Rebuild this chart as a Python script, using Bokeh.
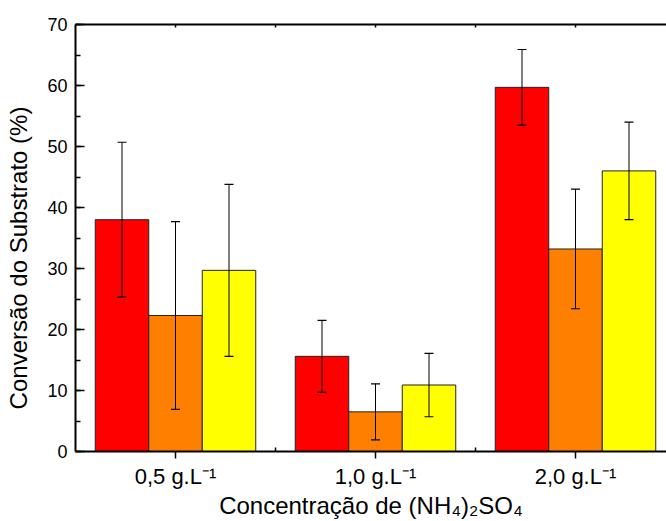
from bokeh.plotting import figure
from bokeh.models import (Range1d, LinearAxis, FixedTicker, SingleIntervalTicker,
                          Whisker, TeeHead, ColumnDataSource)
from bokeh.embed import file_html
from bokeh.resources import INLINE

# ---- data ----
group_labels = ["0,5 g.L⁻¹", "1,0 g.L⁻¹", "2,0 g.L⁻¹"]
series_colors = ["#FF0000", "#FF8000", "#FFFF00"]
red_values = [38.0, 15.6, 59.7]
red_errors = [12.7, 5.9, 6.2]
orange_values = [22.3, 6.5, 33.2]
orange_errors = [15.4, 4.6, 9.8]
yellow_values = [29.7, 10.9, 46.0]
yellow_errors = [14.1, 5.2, 8.0]
y_label = "Conversão do Substrato (%)"
x_label = "Concentração de (NH₄)₂SO₄"

FONT = "Liberation Sans"
W, H = 666, 521
BL, BR, BT, BB = 75, 0, 24, 70
group_px = 200.0
x0 = 0.5
x1 = x0 + (W - BL - BR) / group_px

p = figure(width=W, height=H, x_range=Range1d(x0, x1), y_range=Range1d(0, 70),
           output_backend="svg", toolbar_location=None,
           min_border_left=BL, min_border_right=BR, min_border_top=BT,
           min_border_bottom=BB)
p.outline_line_color = None
p.grid.visible = False
p.background_fill_color = "white"
p.border_fill_color = "white"

positions = [1, 2, 3]
bar_w = 53.5 / group_px
series = [(red_values, red_errors), (orange_values, orange_errors),
          (yellow_values, yellow_errors)]
for i, ((vals, errs), col) in enumerate(zip(series, series_colors)):
    xs = [g + (i - 1) * bar_w for g in positions]
    src = ColumnDataSource(dict(x=xs, top=vals,
                                upper=[v + e for v, e in zip(vals, errs)],
                                lower=[v - e for v, e in zip(vals, errs)]))
    p.vbar(x="x", top="top", width=bar_w, bottom=0, source=src,
           fill_color=col, line_color="#222222", line_width=1)
    wk = Whisker(base="x", upper="upper", lower="lower", source=src,
                 line_color="black", line_width=1, level="overlay",
                 upper_head=TeeHead(size=9, line_color="black", line_width=1.2),
                 lower_head=TeeHead(size=9, line_color="black", line_width=1.2))
    p.add_layout(wk)

# y axis
ya = p.yaxis[0]
ya.ticker = SingleIntervalTicker(interval=10, num_minor_ticks=2)
ya.axis_line_width = 2
ya.major_tick_in = 9
ya.major_tick_out = 0
ya.minor_tick_in = 5
ya.minor_tick_out = 0
ya.major_tick_line_width = 1.5
ya.minor_tick_line_width = 1.5
ya.major_label_text_font = FONT
ya.major_label_text_font_size = "18px"
ya.major_label_text_color = "black"
ya.major_label_standoff = 8
ya.axis_label = y_label + "\u00a0" * 6
ya.axis_label_text_font = FONT
ya.axis_label_text_font_size = "24px"
ya.axis_label_text_font_style = "normal"
ya.axis_label_text_color = "black"
ya.axis_label_standoff = 12

# x axis
xa = p.xaxis[0]
xa.ticker = FixedTicker(ticks=positions, minor_ticks=[1.5, 2.5])
xa.major_label_overrides = {g: t for g, t in zip(positions, group_labels)}
xa.axis_line_width = 2
xa.major_tick_in = 0
xa.major_tick_out = 7
xa.minor_tick_in = 4
xa.minor_tick_out = 0
xa.major_tick_line_width = 1.5
xa.minor_tick_line_width = 1.5
xa.major_label_text_font = FONT
xa.major_label_text_font_size = "22px"
xa.major_label_text_color = "black"
xa.major_label_standoff = 5
xa.axis_label = x_label
xa.axis_label_text_font = FONT
xa.axis_label_text_font_size = "24px"
xa.axis_label_text_font_style = "normal"
xa.axis_label_text_color = "black"
xa.axis_label_standoff = 0

# top axis (frame line with small inward ticks, no labels)
ta = LinearAxis(ticker=FixedTicker(ticks=[], minor_ticks=[1, 1.5, 2, 2.5, 3]))
ta.axis_line_width = 2
ta.major_tick_in = 0
ta.major_tick_out = 0
ta.minor_tick_in = 3
ta.minor_tick_out = 0
ta.minor_tick_line_width = 1.5
p.add_layout(ta, "above")

open("out.html", "w").write(file_html(p, INLINE))
